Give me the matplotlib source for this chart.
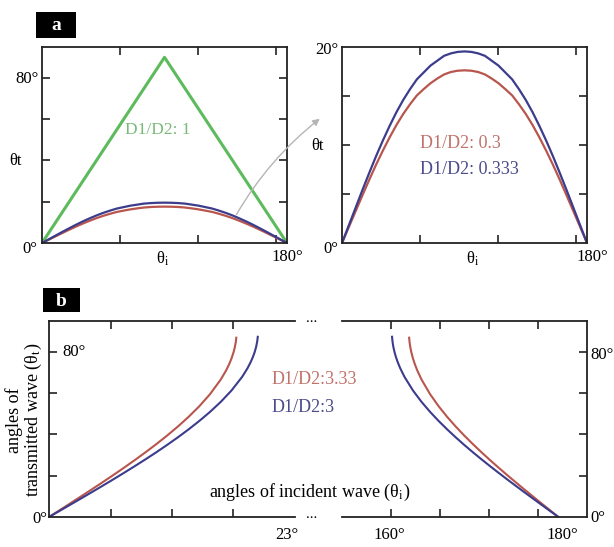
import numpy as np
import matplotlib
matplotlib.use('Agg')
import matplotlib.pyplot as plt
from matplotlib.patches import Rectangle, FancyArrowPatch

plt.rcParams['font.family'] = ['Liberation Serif', 'DejaVu Serif']
plt.rcParams['mathtext.fontset'] = 'stix'

# ---------------- data (degrees) ----------------
# panel a : incidence angle 0..180
theta_i_top = [0, 5, 10, 15, 20, 25, 30, 35, 40, 45, 50, 55, 60, 65, 70, 75, 80, 85, 90,
               95, 100, 105, 110, 115, 120, 125, 130, 135, 140, 145, 150, 155, 160, 165,
               170, 175, 180]
theta_i_tri = [0, 90, 180]
theta_t_ratio_1 = [0, 90, 0]
theta_t_ratio_03 = [0, 1.62, 3.24, 4.86, 6.45, 7.98, 9.42, 10.78, 12.04, 13.17, 14.16, 15.06,
                    15.7, 16.3, 16.78, 17.2, 17.45, 17.58, 17.62,
                    17.58, 17.45, 17.2, 16.78, 16.3, 15.7, 15.06, 14.16, 13.17, 12.04, 10.78,
                    9.42, 7.98, 6.45, 4.86, 3.24, 1.62, 0]
theta_t_ratio_0333 = [0, 1.8, 3.6, 5.4, 7.15, 8.85, 10.45, 11.95, 13.35, 14.6, 15.7, 16.7,
                      17.4, 18.1, 18.6, 19.1, 19.35, 19.5, 19.55,
                      19.5, 19.35, 19.1, 18.6, 18.1, 17.4, 16.7, 15.7, 14.6, 13.35, 11.95,
                      10.45, 8.85, 7.15, 5.4, 3.6, 1.8, 0]

# panel b, left part (small incidence angles)
b_left_x_333 = [0, 1, 2, 3, 4, 5, 6, 7, 8, 9, 10, 11, 12, 13, 14, 15, 16, 16.5, 16.8, 17,
                17.2, 17.3, 17.4, 17.45]
b_left_y_333 = [0, 3.33, 6.67, 10.04, 13.43, 16.87, 20.37, 23.94, 27.61, 31.40, 35.33,
                39.45, 43.82, 48.51, 53.66, 59.53, 66.61, 71.04, 74.26, 76.80,
                79.97, 82.0, 84.7, 86.9]
b_left_x_3 = [0, 1, 2, 3, 4, 5, 6, 7, 8, 9, 10, 11, 12, 13, 14, 15, 16, 17, 18, 18.5, 18.8,
              19, 19.15, 19.3, 19.4, 19.45]
b_left_y_3 = [0, 3.00, 6.01, 9.03, 12.08, 15.16, 18.27, 21.45, 24.68, 27.99, 31.39,
              34.92, 38.59, 42.45, 46.54, 50.94, 55.79, 61.30, 67.97, 72.16, 75.2,
              77.61, 79.76, 82.5, 85.2, 87.35]

# panel b, right part (large incidence angles)
b_right_x_333 = [180, 179, 178, 177, 176, 175, 174, 173, 172, 171, 170, 169, 168, 167, 166,
                 165, 164, 163.5, 163.2, 163, 162.8, 162.7, 162.6, 162.55]
b_right_y_333 = [0, 3.33, 6.67, 10.04, 13.43, 16.87, 20.37, 23.94, 27.61, 31.40, 35.33,
                 39.45, 43.82, 48.51, 53.66, 59.53, 66.61, 71.04, 74.26, 76.80,
                 79.97, 82.0, 84.7, 86.9]
b_right_x_3 = [180, 179, 178, 177, 176, 175, 174, 173, 172, 171, 170, 169, 168, 167, 166,
               165, 164, 163, 162, 161.5, 161.2, 161, 160.85, 160.7, 160.6, 160.55]
b_right_y_3 = [0, 3.00, 6.01, 9.03, 12.08, 15.16, 18.27, 21.45, 24.68, 27.99, 31.39,
               34.92, 38.59, 42.45, 46.54, 50.94, 55.79, 61.30, 67.97, 72.16, 75.2,
               77.61, 79.76, 82.5, 85.2, 87.35]

GREEN = '#5dbb5d'
RED = '#b8554d'
BLUE = '#3c3c8c'
RED_T = '#c0726a'
BLUE_T = '#4a4a8c'
GREEN_T = '#79b979'

W, H = 614, 547
fig = plt.figure(figsize=(W / 100, H / 100), dpi=100)


def add_ax(x0, y0, x1, y1):
    return fig.add_axes([x0 / W, 1 - y1 / H, (x1 - x0) / W, (y1 - y0) / H])


def ftext(x, y, s, **kw):
    kw.setdefault('fontsize', 12)
    fig.text(x / W, 1 - y / H, s, **kw)


def style(ax, left=True, right=True):
    for sp in ax.spines.values():
        sp.set_linewidth(1.3)
        sp.set_color('#222222')
    ax.spines['left'].set_visible(left)
    ax.spines['right'].set_visible(right)
    ax.tick_params(direction='in', length=6, width=1.2, color='#222222',
                   top=True, bottom=True, left=left, right=right,
                   labelbottom=False, labelleft=False)


rad_ticks_top = np.degrees([1, 2, 3])

# ---- panel a, left ----
axA = add_ax(42, 47, 287, 243)
axA.plot(theta_i_tri, theta_t_ratio_1, color=GREEN, lw=2.2)
axA.plot(theta_i_top, theta_t_ratio_03, color=RED, lw=1.6)
axA.plot(theta_i_top, theta_t_ratio_0333, color=BLUE, lw=1.6)
axA.set_xlim(0, 180)
axA.set_ylim(0, 95)
axA.set_xticks(rad_ticks_top)
axA.set_yticks([20, 40, 60, 80])
style(axA)
axA.text(85, 55, 'D1/D2: 1', color=GREEN_T, fontsize=12.5, ha='center', va='center')

# ---- panel a, right ----
axB = add_ax(342, 47, 587, 243)
axB.plot(theta_i_top, theta_t_ratio_03, color=RED, lw=1.6)
axB.plot(theta_i_top, theta_t_ratio_0333, color=BLUE, lw=1.6)
axB.set_xlim(0, 180)
axB.set_ylim(0, 20)
axB.set_xticks(rad_ticks_top)
axB.set_yticks([5, 10, 15])
style(axB)

# ---- panel b ----
axL = add_ax(49, 321, 295, 517)
axL.plot(b_left_x_333, b_left_y_333, color=RED, lw=1.5)
axL.plot(b_left_x_3, b_left_y_3, color=BLUE, lw=1.5)
axL.set_xlim(0, np.degrees(0.4))
axL.set_ylim(0, 95)
axL.set_xticks(np.degrees([0.1, 0.2, 0.3]))
axL.set_yticks([20, 40, 60, 80])
style(axL, left=True, right=False)

axR = add_ax(342, 321, 587, 517)
axR.plot(b_right_x_333, b_right_y_333, color=RED, lw=1.5)
axR.plot(b_right_x_3, b_right_y_3, color=BLUE, lw=1.5)
axR.set_xlim(np.degrees(2.7), np.degrees(3.2))
axR.set_ylim(0, 95)
axR.set_xticks(np.degrees([2.8, 2.9, 3.0, 3.1]))
axR.set_yticks([20, 40, 60, 80])
style(axR, left=False, right=True)

# ---- texts, panel a ----
ftext(39, 79, '80°', ha='right', va='center')
ftext(37, 249, '0°', ha='right', va='center')
ftext(287, 257, '180°', ha='center', va='center')
ftext(16, 161, 'θt', ha='center', va='center')
ftext(163, 259, r'θ$_\mathrm{i}$', ha='center', va='center')

ftext(338, 50, '20°', ha='right', va='center')
ftext(338, 249, '0°', ha='right', va='center')
ftext(592, 257, '180°', ha='center', va='center')
ftext(318, 146, 'θt', ha='center', va='center')
ftext(473, 259, r'θ$_\mathrm{i}$', ha='center', va='center')
ftext(420, 143, 'D1/D2: 0.3', color=RED_T, fontsize=13, ha='left', va='center')
ftext(420, 170, 'D1/D2: 0.333', color=BLUE_T, fontsize=13, ha='left', va='center')

# ---- texts, panel b ----
ftext(62, 352, '80°', ha='left', va='center')
ftext(47, 519, '0°', ha='right', va='center')
ftext(287, 535, '23°', ha='center', va='center')
ftext(389, 535, '160°', ha='center', va='center')
ftext(562, 535, '180°', ha='center', va='center')
ftext(590, 355, '80°', ha='left', va='center')
ftext(590, 518, '0°', ha='left', va='center')
ftext(312, 318, '...', ha='center', va='center', fontsize=11)
ftext(312, 514, '...', ha='center', va='center', fontsize=11)
ftext(272, 379, 'D1/D2:3.33', color=RED_T, fontsize=13, ha='left', va='center')
ftext(272, 407, 'D1/D2:3', color=BLUE_T, fontsize=13, ha='left', va='center')
ftext(310, 492, r'angles of incident wave (θ$_\mathrm{i}$)', fontsize=13, ha='center', va='center')
ftext(25, 420, 'angles of\n' + r'transmitted wave (θ$_\mathrm{t}$)', fontsize=13, rotation=90,
      ha='center', va='center', multialignment='center', linespacing=1.0)

# ---- panel labels ----
for (x0, y0, x1, y1, s) in [(36, 12, 76, 38, 'a'), (43, 288, 80, 312, 'b')]:
    fig.patches.append(Rectangle((x0 / W, 1 - y1 / H), (x1 - x0) / W, (y1 - y0) / H,
                                 transform=fig.transFigure, facecolor='black',
                                 edgecolor='none'))
    ftext((x0 + x1) / 2, (y0 + y1) / 2 + 1, s, color='white', fontsize=14,
          ha='center', va='center', fontweight='bold')

# ---- zoom arrow ----
arr = FancyArrowPatch((235 / W, 1 - 217 / H), (322 / W, 1 - 117 / H),
                      transform=fig.transFigure, arrowstyle='-|>,head_length=4,head_width=2',
                      connectionstyle='arc3,rad=-0.1', color='#b5b5b5', lw=1.0)
fig.patches.append(arr)

fig.savefig('out.png', dpi=100)
